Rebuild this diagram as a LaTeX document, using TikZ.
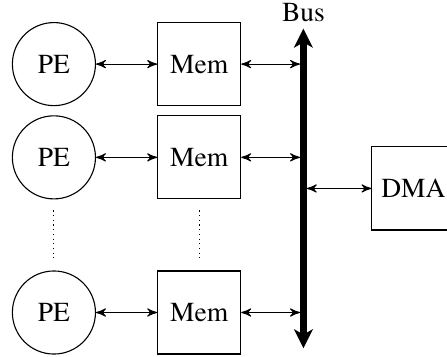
\documentclass[tikz,border=0pt]{standalone}
\usepackage{fontspec}
\setmainfont{texgyretermes-regular.otf}
\usetikzlibrary{arrows}
\usetikzlibrary{arrows.meta}
\usetikzlibrary{positioning}

\begin{document}
\begin{tikzpicture}[>=stealth',
        pe/.style={draw,circle,minimum size=30.2pt,inner sep=0pt},
        mem/.style={draw,rectangle,minimum size=30.2pt,inner sep=0pt},
        link/.style={<->},
        bustip/.tip={Stealth[length=7pt 0 0,width=7pt 0 0,inset=2pt 0,line width=0pt]},
        bus/.style={bustip-bustip,line width=2.5pt},
        vdots/.style={dash pattern=on 0.4pt off 1.3pt},
        node distance=3.3pt and 22.2pt,
  ]
    \useasboundingbox (-19.6pt,-106.2pt) rectangle (142.9pt,23.3pt);

    \node[pe] (pe1) {PE};
    \node[mem,right=of pe1] (mem1) {Mem};
    \node[pe,below=of pe1] (pe2) {PE};
    \node[mem,right=of pe2] (mem2) {Mem};
    \node[pe,below=25.8pt of pe2] (pe3) {PE};
    \node[mem,right=of pe3] (mem3) {Mem};

    % the bus
    \coordinate[below right=2.4pt and 22.6pt of mem1.north east] (bustop);
    \coordinate[above right=2.3pt and 22.6pt of mem3.south east] (busbot);
    \draw[bus] (busbot) -- (bustop) node[above,inner sep=1.4pt] (buslabel) {Bus};
    \path (bustop) -- (busbot) coordinate[pos=0.5] (busmid);

    \node[mem,right=24.7pt of busmid] (dma) {DMA};

    \foreach \i in {1,2,3} {
        \draw[link] (pe\i) -- (mem\i);
        \draw[link,shorten >=1.25pt] (mem\i) -- (mem\i -| bustop);
    }
    \draw[link,shorten <=1.25pt] (busmid) -- (dma);

    \draw[vdots] ([yshift=-4pt]pe2.south) -- ([yshift=4pt]pe3.north);
    \draw[vdots] ([yshift=-4pt]mem2.south) -- ([yshift=4.4pt]mem3.north);
\end{tikzpicture}
\end{document}
